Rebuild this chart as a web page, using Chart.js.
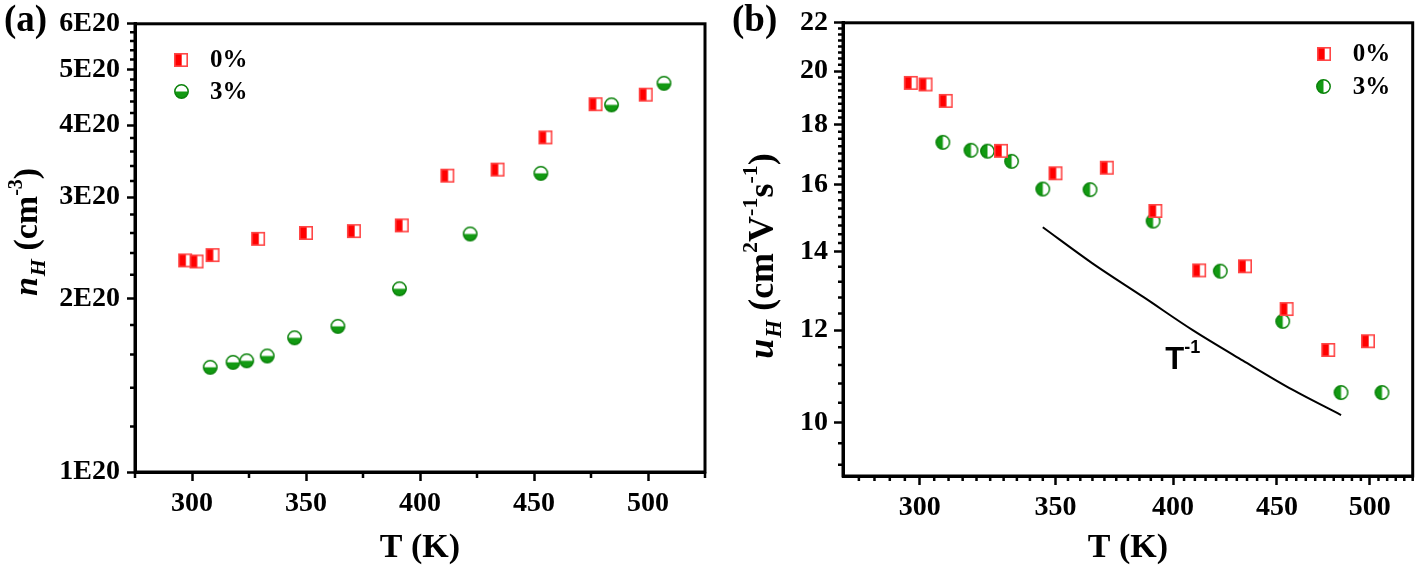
<!DOCTYPE html>
<html><head><meta charset="utf-8">
<script src="https://cdn.jsdelivr.net/npm/chart.js@4.4.1/dist/chart.umd.min.js"></script>
<style>
html,body{margin:0;padding:0;background:#fff;width:1418px;height:572px;overflow:hidden}
canvas{position:absolute;top:0}
#ca{left:0}
#cb{left:710px}
.probe{position:absolute;left:-999px;top:0;font-family:"Liberation Serif","Times New Roman",serif;font-weight:bold}
</style></head><body>
<span class="probe">0% <i>nH</i></span>
<span class="probe" style="font-family:'Liberation Sans',Arial,sans-serif">T-1</span>
<canvas id="ca" width="710" height="572"></canvas>
<canvas id="cb" width="708" height="572"></canvas>
<script>
// ---------------- data ----------------
const seriesLabels = ['0%', '3%'];
// panel (a): carrier concentration
const T_0  = [297, 302, 309, 329, 350, 371, 392, 412, 434, 455, 477, 499];
const nH_0 = [2.33e20, 2.32e20, 2.38e20, 2.54e20, 2.60e20, 2.62e20, 2.68e20, 3.27e20, 3.35e20, 3.81e20, 4.35e20, 4.52e20];
const T_3  = [308, 318, 324, 333, 345, 364, 391, 422, 453, 484, 507];
const nH_3 = [1.52e20, 1.55e20, 1.56e20, 1.59e20, 1.71e20, 1.79e20, 2.08e20, 2.59e20, 3.30e20, 4.34e20, 4.73e20];
// panel (b): Hall mobility
const muT_0 = [297, 302, 309, 329, 350, 371, 392, 412, 434, 455, 477, 499];
const mu_0  = [19.54, 19.48, 18.86, 17.09, 16.35, 16.53, 15.18, 13.50, 13.61, 12.51, 11.54, 11.74];
const muT_3 = [308, 318, 324, 333, 345, 364, 391, 422, 453, 484, 507];
const mu_3  = [17.38, 17.11, 17.08, 16.74, 15.85, 15.83, 14.88, 13.48, 12.21, 10.61, 10.61];
// T^-1 guide line
const T_guide  = [345, 365, 387, 409, 433, 458, 484];
const mu_guide = [14.70, 13.69, 12.80, 12.00, 11.30, 10.67, 10.15];
const guideText = {T: 396.5, mu: 11.12};
// tick values
const xMajor = [300, 350, 400, 450, 500];
const xMinorA = [275, 325, 375, 425, 475, 525];
const nMajor = [1e20, 2e20, 3e20, 4e20, 5e20, 6e20];
const muMajor = [10, 12, 14, 16, 18, 20, 22];

// minor ticks (style helpers)
const nMinor = []; for (let k = 10; k < 60; k += 2) { if (k % 10) nMinor.push(k * 1e19); }
const xMinorB = []; for (let t = 280; t <= 525; t += 5) { if (t % 50) xMinorB.push(t); }
const muMinor = [9.2, 9.6, 10.4, 10.8, 11.2, 11.6, 12.4, 12.8, 13.2, 13.6];
for (let v = 14.25; v < 22; v += 0.25) { if (Math.abs(v - Math.round(v/2)*2) > 1e-6) muMinor.push(v); }

// ---------------- styles ----------------
const SERIF = '"Liberation Serif", "Times New Roman", Times, serif';
const SANS = '"Liberation Sans", Arial, Helvetica, sans-serif';
const tickFont = {family: SERIF, size: 28, weight: 'bold'};
function squareStyle() {
  const c = document.createElement('canvas'); c.width = 16; c.height = 16;
  const g = c.getContext('2d');
  g.fillStyle = '#fff'; g.fillRect(1.5, 1.5, 13, 13);
  g.fillStyle = '#ff0000'; g.fillRect(1.5, 1.5, 7.2, 13);
  g.strokeStyle = '#ff4646'; g.lineWidth = 1.6; g.strokeRect(1.8, 1.8, 12.4, 12.4);
  return c;
}
function circleStyle(vertical) {
  const c = document.createElement('canvas'); c.width = 17; c.height = 17;
  const g = c.getContext('2d');
  g.fillStyle = '#fff'; g.beginPath(); g.arc(8.5, 8.5, 6.7, 0, 2*Math.PI); g.fill();
  g.fillStyle = '#129a12'; g.beginPath();
  if (vertical) g.arc(8.5, 8.5, 6.7, Math.PI/2, 3*Math.PI/2); else g.arc(8.5, 8.5, 6.7, 0, Math.PI);
  g.closePath(); g.fill();
  g.strokeStyle = '#0a820a'; g.lineWidth = 1.5; g.beginPath(); g.arc(8.5, 8.5, 6.7, 0, 2*Math.PI); g.stroke();
  return c;
}
const redSq = squareStyle();
const grnA = circleStyle(false);
const grnB = circleStyle(true);

function pts(xs, ys) { return xs.map((x, i) => ({x: x, y: ys[i]})); }

function drawRich(ctx, segs, x, y, rotate, align) {
  ctx.save(); ctx.translate(x, y); if (rotate) ctx.rotate(-Math.PI/2);
  let total = 0;
  segs.forEach(s => { ctx.font = s.font; s.w = ctx.measureText(s.t).width + (s.gap || 0); total += s.w; });
  let cx = align === 'center' ? -total/2 : 0;
  ctx.textBaseline = 'alphabetic'; ctx.textAlign = 'left'; ctx.fillStyle = '#000';
  segs.forEach(s => { ctx.font = s.font; ctx.fillText(s.t, cx, s.dy || 0); cx += s.w; });
  ctx.restore();
}

function minorTicks(ctx, chart, xVals, yVals, xLen, yLen) {
  const a = chart.chartArea, xs = chart.scales.x, ys = chart.scales.y;
  ctx.save(); ctx.strokeStyle = '#000'; ctx.lineWidth = 2.5; ctx.beginPath();
  xVals.forEach(v => { const p = xs.getPixelForValue(v); ctx.moveTo(p, a.bottom); ctx.lineTo(p, a.bottom + xLen); });
  yVals.forEach(v => { const p = ys.getPixelForValue(v); ctx.moveTo(a.left, p); ctx.lineTo(a.left - yLen, p); });
  ctx.stroke();
  ctx.lineWidth = 3; ctx.strokeRect(a.left, a.top, a.right - a.left, a.bottom - a.top);
  ctx.restore();
}

function legend(ctx, x, y, gap, items) {
  ctx.save();
  ctx.font = 'bold 25px ' + SERIF; ctx.textBaseline = 'middle'; ctx.fillStyle = '#000';
  items.forEach((it, i) => {
    const yy = y + i * gap;
    ctx.drawImage(it.img, Math.round(x - it.img.width/2), Math.round(yy - it.img.height/2));
    ctx.fillText(it.text, x + 29, yy + 1);
  });
  ctx.restore();
}

function axisCommon(len) {
  return {
    grid: {drawOnChartArea: false, drawTicks: true, tickLength: len, tickWidth: 2.5, tickColor: '#000'},
    border: {display: true, width: 3, color: '#000'}
  };
}
const xTitle = {display: true, text: 'T (K)', color: '#000', font: {family: SERIF, size: 34, weight: 'bold'}, padding: {top: 0, bottom: 3}};

function build() {
// ---------------- chart (a) ----------------
new Chart(document.getElementById('ca'), {
  type: 'scatter',
  data: {datasets: [
    {label: seriesLabels[0], data: pts(T_0, nH_0), pointStyle: redSq},
    {label: seriesLabels[1], data: pts(T_3, nH_3), pointStyle: grnA}
  ]},
  options: {
    responsive: false, animation: false, devicePixelRatio: 1,
    layout: {padding: {left: 0, right: 5, top: 17, bottom: 0}},
    plugins: {legend: {display: false}, tooltip: {enabled: false}},
    scales: {
      x: Object.assign(axisCommon(9), {
        type: 'linear', min: 275, max: 525,
        afterBuildTicks: s => { s.ticks = xMajor.map(v => ({value: v})); },
        ticks: {font: tickFont, color: '#000', padding: 6, autoSkip: false, maxRotation: 0},
        title: xTitle,
        afterFit: s => { s.height = 100; }
      }),
      y: Object.assign(axisCommon(8), {
        type: 'logarithmic', min: 1e20, max: 6e20,
        afterBuildTicks: s => { s.ticks = nMajor.map(v => ({value: v})); },
        ticks: {font: tickFont, color: '#000', padding: 7, autoSkip: false,
                callback: v => Math.round(v / 1e20) + 'E20'},
        afterFit: s => { s.width = 135; }
      })
    }
  },
  plugins: [{
    id: 'decorA',
    afterDraw(chart) {
      const ctx = chart.ctx, a = chart.chartArea;
      minorTicks(ctx, chart, xMinorA, nMinor, 6, 5);
      drawRich(ctx, [
        {t: 'n', font: 'italic bold 34px ' + SERIF, gap: 1},
        {t: 'H', font: 'italic bold 22px ' + SERIF, dy: 8},
        {t: ' (cm', font: 'bold 34px ' + SERIF},
        {t: '-3', font: 'bold 20px ' + SERIF, dy: -15},
        {t: ')', font: 'bold 34px ' + SERIF}
      ], 37, 232, true, 'center');
      drawRich(ctx, [{t: '(a)', font: 'bold 37px ' + SERIF}], 4, 31, false, 'left');
      legend(ctx, a.left + 46, a.top + 36, 32, [
        {img: redSq, text: seriesLabels[0]}, {img: grnA, text: seriesLabels[1]}
      ]);
    }
  }]
});

// ---------------- chart (b) ----------------
new Chart(document.getElementById('cb'), {
  type: 'scatter',
  data: {datasets: [
    {label: seriesLabels[0], data: pts(muT_0, mu_0), pointStyle: redSq},
    {label: seriesLabels[1], data: pts(muT_3, mu_3), pointStyle: grnB},
    {type: 'line', label: 'T-1', data: pts(T_guide, mu_guide), showLine: true, borderColor: '#000',
     borderWidth: 2, pointRadius: 0, tension: 0.4, cubicInterpolationMode: 'monotone', fill: false}
  ]},
  options: {
    responsive: false, animation: false, devicePixelRatio: 1,
    layout: {padding: {left: 0, right: 5.3, top: 22, bottom: 0}},
    plugins: {legend: {display: false}, tooltip: {enabled: false}},
    scales: {
      x: Object.assign(axisCommon(9), {
        type: 'logarithmic', min: 275, max: 525,
        afterBuildTicks: s => { s.ticks = xMajor.map(v => ({value: v})); },
        ticks: {font: tickFont, color: '#000', padding: 6, autoSkip: false, maxRotation: 0,
                callback: v => String(v)},
        title: xTitle,
        afterFit: s => { s.height = 96; }
      }),
      y: Object.assign(axisCommon(9), {
        type: 'logarithmic', min: 9, max: 22,
        afterBuildTicks: s => { s.ticks = muMajor.map(v => ({value: v})); },
        ticks: {font: tickFont, color: '#000', padding: 6, autoSkip: false, callback: v => String(v)},
        afterFit: s => { s.width = 133; }
      })
    }
  },
  plugins: [{
    id: 'decorB',
    afterDraw(chart) {
      const ctx = chart.ctx, a = chart.chartArea;
      minorTicks(ctx, chart, xMinorB, muMinor, 5, 5);
      drawRich(ctx, [
        {t: 'u', font: 'italic bold 36px ' + SERIF, gap: 1},
        {t: 'H', font: 'italic bold 23px ' + SERIF, dy: 8},
        {t: ' (cm', font: 'bold 36px ' + SERIF},
        {t: '2', font: 'bold 22px ' + SERIF, dy: -16},
        {t: 'V', font: 'bold 36px ' + SERIF},
        {t: '-1', font: 'bold 22px ' + SERIF, dy: -16},
        {t: 's', font: 'bold 36px ' + SERIF},
        {t: '-1', font: 'bold 22px ' + SERIF, dy: -16},
        {t: ')', font: 'bold 36px ' + SERIF}
      ], 63, 256, true, 'center');
      drawRich(ctx, [{t: '(b)', font: 'bold 37px ' + SERIF}], 22, 31, false, 'left');
      legend(ctx, a.right - 89, a.top + 31, 33, [
        {img: redSq, text: seriesLabels[0]}, {img: grnB, text: seriesLabels[1]}
      ]);
      const gx = chart.scales.x.getPixelForValue(guideText.T), gy = chart.scales.y.getPixelForValue(guideText.mu);
      drawRich(ctx, [
        {t: 'T', font: 'bold 31px ' + SANS},
        {t: '-1', font: 'bold 18px ' + SANS, dy: -16}
      ], gx, gy, false, 'left');
    }
  }]
});
}

let built = false;
function go() { if (!built) { built = true; build(); } }
if (document.fonts && document.fonts.load) {
  Promise.all([
    document.fonts.load('bold 28px "Liberation Serif"'),
    document.fonts.load('italic bold 34px "Liberation Serif"'),
    document.fonts.load('bold 31px "Liberation Sans"')
  ]).then(go, go);
  setTimeout(go, 1500);
} else { go(); }
</script>
</body></html>
